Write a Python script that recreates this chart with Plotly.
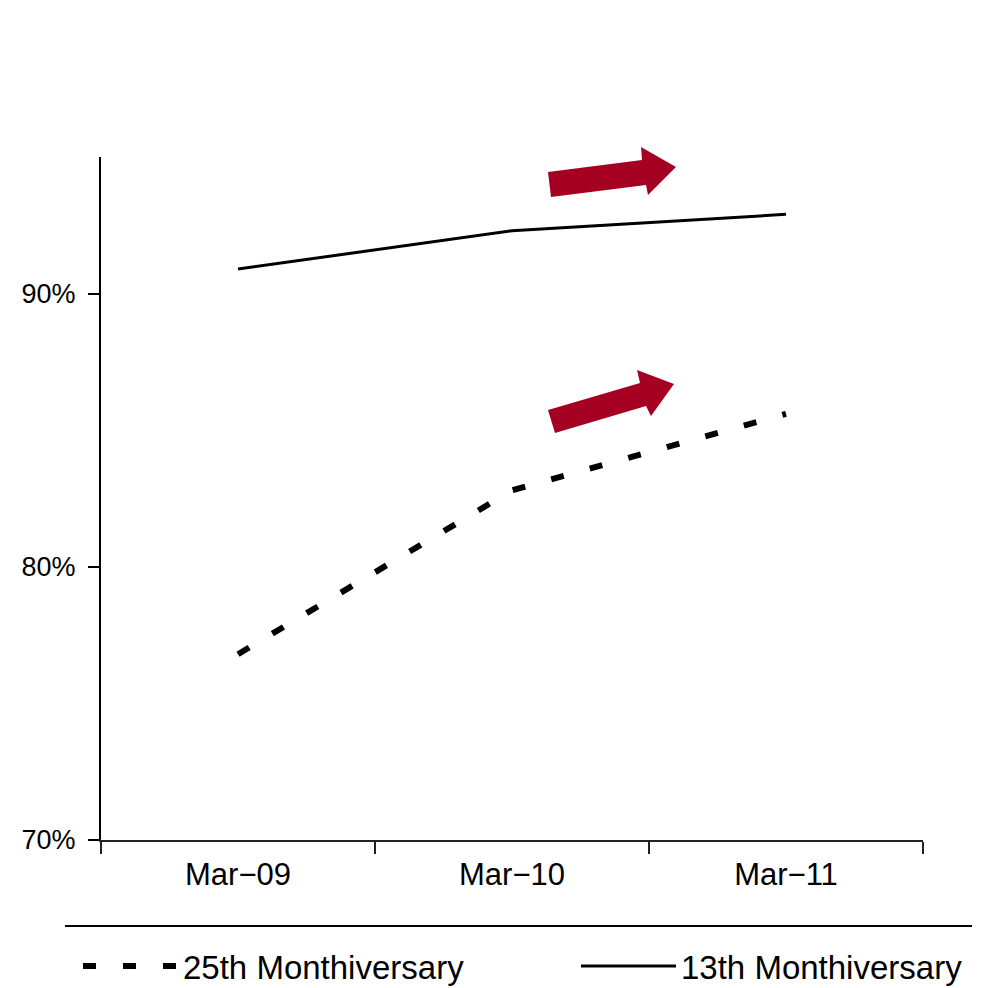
import plotly.graph_objects as go

# Survival-to-anniversary rates by cohort
periods = ["Mar\u221209", "Mar\u221210", "Mar\u221211"]
rate_25th = [76.8, 82.8, 85.6]
rate_13th = [90.9, 92.3, 92.9]
y_tick_vals = [70, 80, 90]
y_tick_text = ["70%", "80%", "90%"]
series_names = ["25th Monthiversary", "13th Monthiversary"]

W, H = 990, 988
ML, MR, MT, MB = 101, 67, 157, 148
FONT = "Liberation Sans"
ARROW_RED = "#A50021"


def px(x):
    return (x - ML) / (W - ML - MR)


def py(y):
    return (H - MB - y) / (H - MT - MB)


def path(points):
    return "M " + " L ".join(f"{px(x):.5f},{py(y):.5f}" for x, y in points) + " Z"


fig = go.Figure()
fig.add_trace(go.Scatter(
    x=periods, y=rate_25th, name=series_names[0], mode="lines",
    line=dict(color="black", width=6, dash="13px,27px"), legend="legend",
))
fig.add_trace(go.Scatter(
    x=periods, y=rate_13th, name=series_names[1], mode="lines",
    line=dict(color="black", width=3), legend="legend2",
))

# upward-trend block arrows
arrow_upper = [(548, 172), (642, 160), (641, 147), (676, 167), (648, 195), (646, 185), (551, 197)]
arrow_lower = [(548, 410), (640, 383), (637, 370), (674, 384), (651, 416), (646, 406), (555, 433)]
shapes = [
    dict(type="path", xref="paper", yref="paper", path=path(p),
         fillcolor=ARROW_RED, line=dict(width=0))
    for p in (arrow_upper, arrow_lower)
]
# rule above the legend
shapes.append(dict(type="line", xref="paper", yref="paper",
                   x0=px(65), x1=px(972), y0=py(926), y1=py(926),
                   line=dict(color="black", width=2)))

legend_style = dict(
    orientation="h", y=py(966), xanchor="left", yanchor="middle",
    font=dict(size=33, family=FONT), itemwidth=95, bgcolor="rgba(0,0,0,0)",
)

fig.update_layout(
    width=W, height=H,
    margin=dict(l=ML, r=MR, t=MT, b=MB, autoexpand=False),
    paper_bgcolor="white", plot_bgcolor="white",
    font=dict(family=FONT, color="black", size=28),
    shapes=shapes,
    showlegend=True,
    legend=dict(x=px(78), **legend_style),
    legend2=dict(x=px(576), **legend_style),
    xaxis=dict(
        type="category", range=[-0.5, 2.5], tickson="boundaries",
        showline=True, linecolor="#222", linewidth=2,
        ticks="outside", ticklen=12, tickwidth=2, tickcolor="#222",
        showgrid=False, zeroline=False, tickfont=dict(size=31),
        ticklabelstandoff=6,
    ),
    yaxis=dict(
        range=[70, 95], tickvals=y_tick_vals, ticktext=y_tick_text,
        showline=True, linecolor="black", linewidth=2,
        ticks="outside", ticklen=11, tickwidth=2, tickcolor="black",
        showgrid=False, zeroline=False, tickfont=dict(size=27),
        ticklabelstandoff=7,
    ),
)

fig.write_html("out.html")
